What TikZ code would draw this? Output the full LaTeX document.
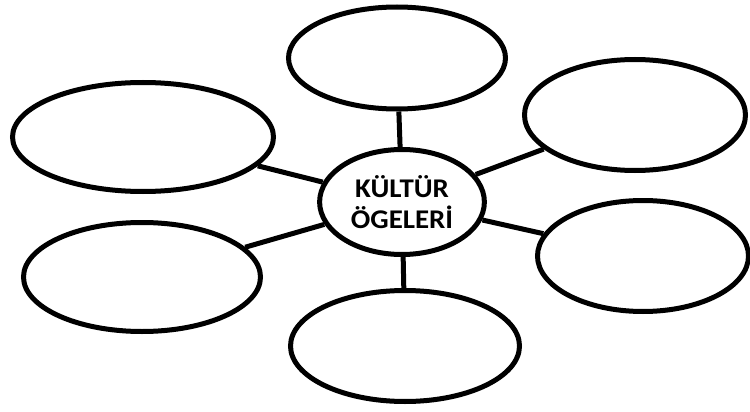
\documentclass[tikz,border=0pt]{standalone}
\usepackage{fontspec}
\setmainfont{Carlito}
\usetikzlibrary{shapes.geometric}

\begin{document}
\begin{tikzpicture}[x=1pt,y=-1pt,line width=5pt,
  blob/.style={draw,ellipse,inner sep=0pt},
  hub/.style={draw,ellipse,xscale=1.07,minimum width=154pt,minimum height=105pt,align=center,
    font=\fontsize{27}{31.5}\selectfont\bfseries}]
\useasboundingbox (0,0) rectangle (750,412);
\node[hub] (kultur) at (402,202) {KÜLTÜR\\ÖGELERİ};
\node[blob,minimum width=217pt,minimum height=102pt] (ust) at (397,58) {};
\node[blob,minimum width=221pt,minimum height=111pt] (sagust) at (635,115) {};
\node[blob,minimum width=261pt,minimum height=109pt] (solust) at (143,137) {};
\node[blob,minimum width=237pt,minimum height=109pt] (solalt) at (142,277) {};
\node[blob,minimum width=211pt,minimum height=111pt] (sagalt) at (643,256) {};
\node[blob,minimum width=229pt,minimum height=111pt] (alt) at (405,346) {};
% baglar
\draw (kultur) -- (ust);
\draw (kultur) -- (sagust);
\draw (kultur) -- (solust);
\draw (kultur) -- (solalt);
\draw (kultur) -- (sagalt);
\draw (kultur) -- (alt);
\end{tikzpicture}
\end{document}
